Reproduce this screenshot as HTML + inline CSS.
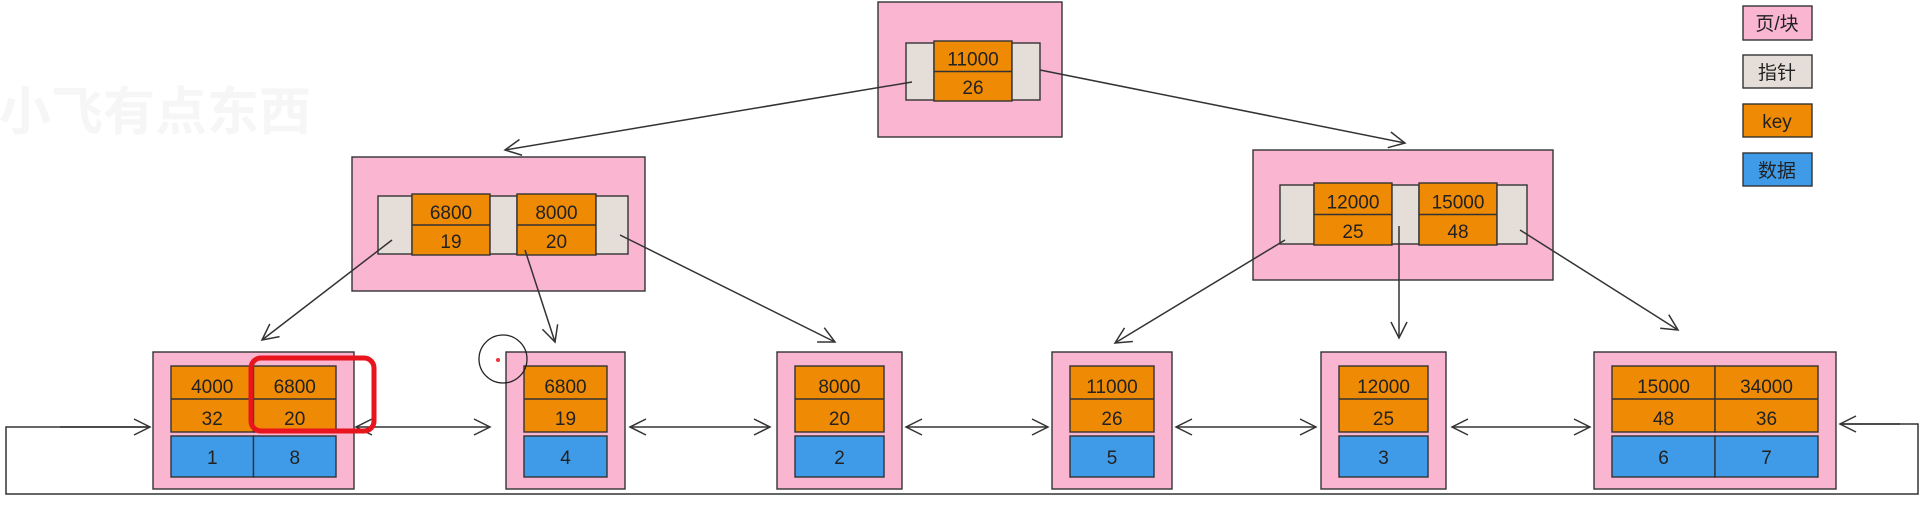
<!DOCTYPE html>
<html><head><meta charset="utf-8"><style>
html,body{margin:0;padding:0;background:#fff;}
svg{display:block;}
text{font-family:"Liberation Sans","Noto Sans CJK SC",sans-serif;fill:#222;text-anchor:middle;}
</style></head><body>
<svg width="1922" height="510" viewBox="0 0 1922 510" xmlns="http://www.w3.org/2000/svg">
<defs>
<marker id="ah" viewBox="0 0 20 20" refX="18" refY="10" markerWidth="20" markerHeight="20" markerUnits="userSpaceOnUse" orient="auto-start-reverse">
<path d="M2 2 L18 10 L2 18" fill="none" stroke="#333" stroke-width="1.5"/>
</marker>
</defs>
<text x="155" y="130" font-size="52" font-weight="bold" style="fill:#f6f6f6">小飞有点东西</text>
<g id="nodes" stroke="#333" stroke-width="1.4"></g>
<g id="arrows" stroke="#333" stroke-width="1.5" fill="none"></g>
<g stroke="#333" stroke-width="1.4">
<rect x="1743" y="6" width="69" height="34" fill="#fab5d0"/>
<text x="1777" y="30" font-size="19" stroke="none">页/块</text>
<rect x="1743" y="55" width="69" height="33" fill="#e5ddd8"/>
<text x="1777" y="79" font-size="19" stroke="none">指针</text>
<rect x="1743" y="104" width="69" height="33" fill="#ef8a04"/>
<text x="1777" y="128" font-size="19" stroke="none">key</text>
<rect x="1743" y="153" width="69" height="33" fill="#3f9be8"/>
<text x="1777" y="177" font-size="19" stroke="none">数据</text>
</g>
<rect x="251" y="358" width="123" height="73" rx="10" fill="none" stroke="#e8141e" stroke-width="5"/>
<circle cx="503" cy="359" r="24" fill="none" stroke="#222" stroke-width="1.3"/>
<circle cx="498" cy="360" r="2" fill="#e33"/>
</svg>
<script>
const internalNodes = [
  {x:878,y:2,w:184,h:135, ix:906,iy:43,ih:57, segs:[['p',906,934],['k',934,1012,'11000','26'],['p',1012,1040]]},
  {x:352,y:157,w:293,h:134, ix:378,iy:196,ih:58, segs:[['p',378,412],['k',412,490,'6800','19'],['p',490,517],['k',517,596,'8000','20'],['p',596,628]]},
  {x:1253,y:150,w:300,h:130, ix:1280,iy:185,ih:59, segs:[['p',1280,1314],['k',1314,1392,'12000','25'],['p',1392,1419],['k',1419,1497,'15000','48'],['p',1497,1527]]}
];
const leafX = [[153,354],[506,625],[777,902],[1052,1172],[1321,1446],[1594,1836]];
const leafKeys = [[['4000','32','1'],['6800','20','8']],[['6800','19','4']],[['8000','20','2']],[['11000','26','5']],[['12000','25','3']],[['15000','48','6'],['34000','36','7']]];
const ns='http://www.w3.org/2000/svg';
const g=document.getElementById('nodes');
function mk(tag,attrs,parent){const e=document.createElementNS(ns,tag);for(const k in attrs)e.setAttribute(k,attrs[k]);(parent||g).appendChild(e);return e;}
function txt(x,y,s,parent){const t=mk('text',{x:x,y:y,'font-size':19,stroke:'none'},parent);t.textContent=s;return t;}
internalNodes.forEach((n,i)=>{
  const r=mk('rect',{x:n.x,y:n.y,width:n.w,height:n.h,fill:'#fab5d0'});
  
  
  n.segs.forEach(s=>{
    if(s[0]==='p'){const e=mk('rect',{x:s[1],y:n.iy,width:s[2]-s[1],height:n.ih,fill:'#e5ddd8'});
      
      }
    else{const e=mk('rect',{x:s[1],y:n.iy-2,width:s[2]-s[1],height:n.ih+3,fill:'#ef8a04'});
      
      
      mk('line',{x1:s[1],y1:n.iy+n.ih/2,x2:s[2],y2:n.iy+n.ih/2});
      const cx=(s[1]+s[2])/2;txt(cx,n.iy+n.ih/2-6,s[3]);txt(cx,n.iy+n.ih-6,s[4]);}
  });
});
leafX.forEach((lx,i)=>{
  const r=mk('rect',{x:lx[0],y:352,width:lx[1]-lx[0],height:137,fill:'#fab5d0'});
  
  
  const keys=leafKeys[i];const inner=lx[1]-lx[0]-36;const cw=inner/keys.length;
  keys.forEach((k,j)=>{
    const x0=lx[0]+18+j*cw;
    const e=mk('rect',{x:x0,y:366,width:cw,height:66,fill:'#ef8a04'});
    
    
    mk('line',{x1:x0,y1:399,x2:x0+cw,y2:399});
    txt(x0+cw/2,393,k[0]);txt(x0+cw/2,425,k[1]);
    const d=mk('rect',{x:x0,y:436,width:cw,height:41,fill:'#3f9be8'});
    
    
    txt(x0+cw/2,464,k[2]);
  });
});
const ag=document.getElementById('arrows');
const arrows=[[912,82,505,150,0],[1040,70,1405,143,0],[392,240,262,340,0],[525,250,555,342,0],[620,235,835,342,0],[1285,240,1115,343,0],[1399,226,1399,338,0],[1520,230,1678,330,0],
[356,427,490,427,1],[630,427,770,427,1],[906,427,1048,427,1],[1176,427,1316,427,1],[1452,427,1590,427,1]];
arrows.forEach(a=>{const l=mk('line',{x1:a[0],y1:a[1],x2:a[2],y2:a[3],'marker-end':'url(#ah)'},ag);
  if(a[4])l.setAttribute('marker-start','url(#ah)');
  
  });
const loop=mk('path',{d:'M150 427 L6 427 L6 494 L1918 494 L1918 424 L1840 424'},ag);


mk('line',{x1:60,y1:427,x2:150,y2:427,'marker-end':'url(#ah)'},ag);
mk('line',{x1:1900,y1:424,x2:1840,y2:424,'marker-end':'url(#ah)'},ag);
</script>
</body></html>
